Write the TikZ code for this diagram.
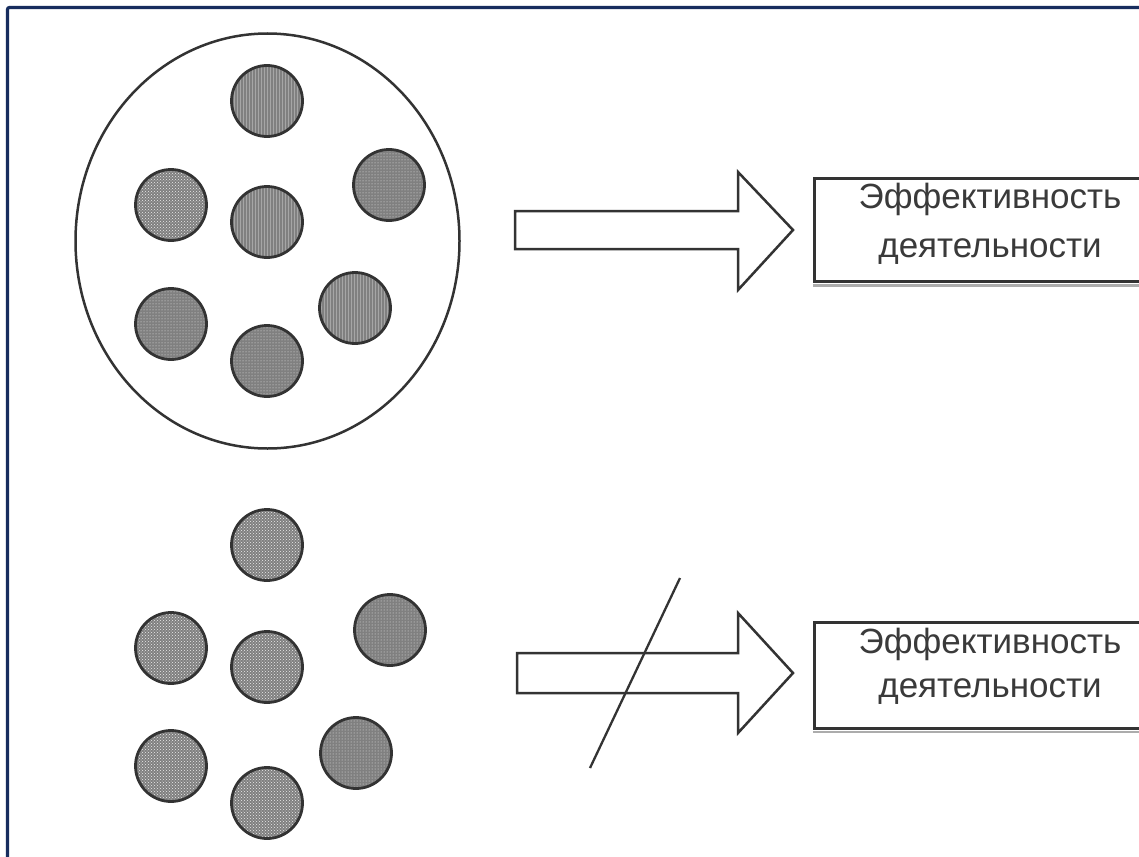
\documentclass[tikz,border=0pt]{standalone}
\usepackage{fontspec}
\setmainfont{Liberation Sans}
\usetikzlibrary{patterns,shapes.geometric}
\definecolor{navy}{HTML}{172D5E}
\definecolor{ink}{HTML}{333333}
\definecolor{txt}{HTML}{3A3A3A}
\begin{document}
\begin{tikzpicture}[x=1pt,y=-1pt,
  ball/.style={circle, draw=ink, line width=2.8pt, minimum size=71pt, inner sep=0pt,
               preaction={fill=black!50}, pattern color=white!85!gray},
  pdots/.style={pattern=dots},
  plines/.style={pattern=vertical lines, pattern color=gray!70},
  pcross/.style={pattern=crosshatch dots},
  outline/.style={draw=ink, line width=2.5pt, line join=miter},
  effbox/.style={rectangle, draw=ink, line width=2.6pt, fill=white, minimum width=345pt, minimum height=103pt, inner sep=0pt, anchor=north west},
  shadowline/.style={gray!65, line width=3.5pt},
  lbl/.style={text=txt, font=\fontsize{35}{40}\selectfont, inner sep=0pt, anchor=base}
]
\useasboundingbox (0,0) rectangle (1139,856);
\fill[white] (0,0) rectangle (1139,856);
% frame
\draw[navy, line width=3.2pt, rounded corners=2pt] (7.5,860) -- (7.5,7.5) -- (1145,7.5);

% upper group
\node (grp) [ellipse, outline, minimum width=384pt, minimum height=415pt, inner sep=0pt] at (267.5,241) {};
\node (t1) [ball, plines] at (267,101) {};
\node (t2) [ball, pcross] at (171,205) {};
\node (t3) [ball, plines] at (267,222) {};
\node (t4) [ball, pdots] at (389,185) {};
\node (t5) [ball, pdots] at (171,324) {};
\node (t6) [ball, pdots] at (267,361) {};
\node (t7) [ball, plines] at (355,308) {};

% lower group
\node (b1) [ball, pcross] at (267,545) {};
\node (b2) [ball, pcross] at (171,648) {};
\node (b3) [ball, pcross] at (267,667) {};
\node (b4) [ball, pdots] at (390,630) {};
\node (b5) [ball, pcross] at (171,766) {};
\node (b6) [ball, pcross] at (267,803) {};
\node (b7) [ball, pdots] at (356,753) {};

% block arrows
\draw[outline, fill=white] (515,211) -- (738,211) -- (738,172) -- (793,230) -- (738,290) -- (738,249) -- (515,249) -- cycle;
\draw[outline, fill=white] (517,653) -- (738,653) -- (738,613) -- (793,673) -- (738,733) -- (738,693) -- (517,693) -- cycle;
% strike line
\coordinate (s1) at (680,578);
\coordinate (s2) at (590,768);
\draw[ink, line width=2.3pt] (s1) -- (s2);

% boxes
\node (eff1) [effbox] at (813,177) {};
\draw[shadowline] ([yshift=-2.8pt]eff1.south west) -- ([yshift=-2.8pt]eff1.south east);
\node (eff1a) [lbl] at (990,208) {Эффективность};
\node (eff1b) [lbl] at (990,257) {деятельности};

\node (eff2) [effbox, minimum height=106pt] at (813,621) {};
\draw[shadowline, line width=2pt] ([yshift=-2.2pt]eff2.south west) -- ([yshift=-2.2pt]eff2.south east);
\node (eff2a) [lbl] at (990,653) {Эффективность};
\node (eff2b) [lbl] at (990,697) {деятельности};
\end{tikzpicture}
\end{document}
